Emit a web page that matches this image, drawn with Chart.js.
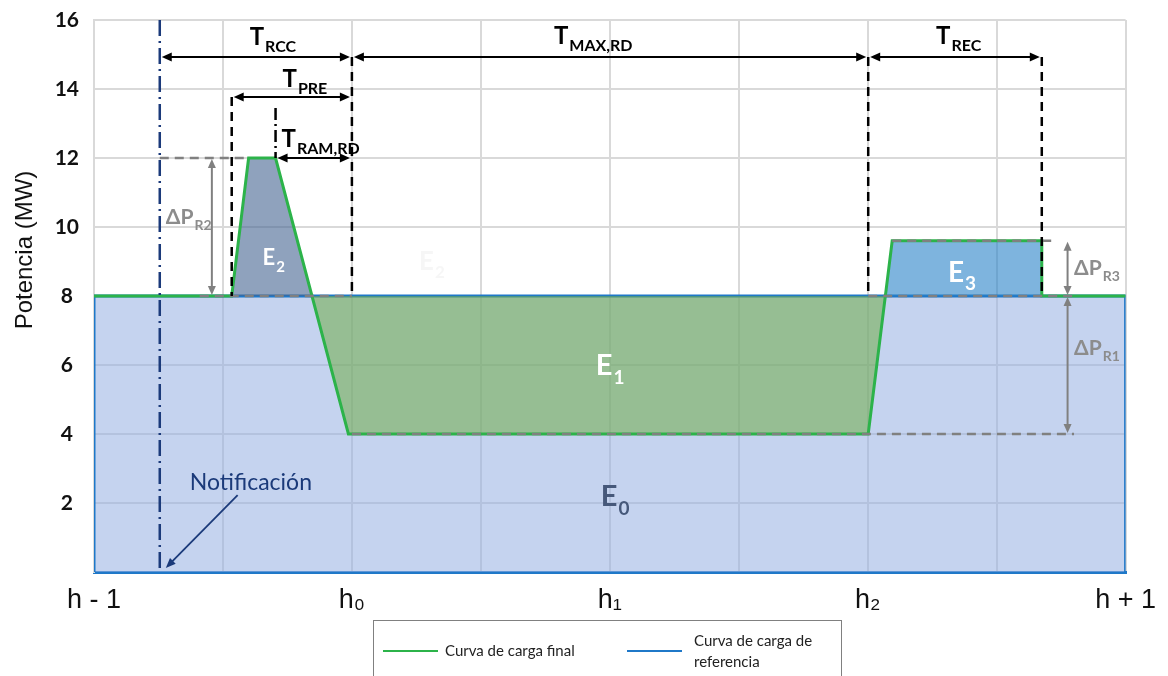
<!DOCTYPE html>
<html>
<head>
<meta charset="utf-8">
<script src="https://cdn.jsdelivr.net/npm/chart.js@4.4.1/dist/chart.umd.min.js"></script>
<style>
  html, body { margin: 0; padding: 0; background: #fff; overflow: hidden; }
  #wrap { position: relative; width: 1168px; height: 676px; }
  #legend {
    position: absolute; left: 373px; top: 620px; width: 467px; height: 70px;
    border: 1.5px solid #808080; font-family: Lato, sans-serif; font-size: 15px; color: #222;
  }
  #legend .ln { position: absolute; height: 2px; width: 55px; }
  #legend .tx { position: absolute; line-height: 21px; }
</style>
</head>
<body>
<div id="wrap">
  <canvas id="chart" width="1168" height="676"></canvas>
  <div id="legend">
    <div class="ln" style="left:9px;top:29px;background:#2cb34a"></div>
    <div class="tx" style="left:71px;top:19px">Curva de carga final</div>
    <div class="ln" style="left:253px;top:29px;background:#1f78c8"></div>
    <div class="tx" style="left:320px;top:9px">Curva de carga de<br>referencia</div>
  </div>
</div>
<script>
// x in hours from h-1 (0) to h+1 (8), y in MW
const xTicks = [0, 2, 4, 6, 8];
const xTickLabels = ['h - 1', 'h\u2080', 'h\u2081', 'h\u2082', 'h + 1'];

const refX = [0, 0, 8, 8];
const refY = [0, 8, 8, 0];

const finalX = [0, 1.068, 1.199, 1.408, 1.973, 6.004, 6.19, 7.35, 7.35, 8];
const finalY = [8, 8, 12, 12, 4, 4, 9.6, 9.6, 8, 8];

const e1X = [1.69, 1.973, 6.004, 6.133];
const e1Y = [8, 4, 4, 8];
const e2X = [1.068, 1.199, 1.408, 1.69];
const e2Y = [8, 12, 12, 8];
const e3X = [6.133, 6.19, 7.35, 7.35];
const e3Y = [8, 9.6, 9.6, 8];

const notifX = 0.51;

const GREEN = '#2cb34a';
const BLUE = '#1f78c8';
const GRAY = '#808080';
const NAVY = '#1b3a7a';

const pts = (xs, ys) => xs.map((x, i) => ({ x: x, y: ys[i] }));

// annotation marks, in data units
const blackDashed = [
  { x: 1.068, y0: 8, y1: 13.77 },
  { x: 2.0, y0: 8, y1: 14.93 },
  { x: 6.004, y0: 8, y1: 14.93 },
  { x: 7.35, y0: 8, y1: 14.93 }
];
const grayDashed = [
  { y: 12, x0: notifX, x1: 1.2 },
  { y: 8, x0: 0.82, x1: 2.0 },
  { y: 8, x0: 6.004, x1: 7.6 },
  { y: 9.6, x0: 6.19, x1: 7.45 },
  { y: 4, x0: 2.0, x1: 7.6 }
];
const blackArrows = [
  { y: 14.93, x0: notifX, x1: 2.0 },
  { y: 14.93, x0: 2.0, x1: 6.004 },
  { y: 14.93, x0: 6.004, x1: 7.35 },
  { y: 13.77, x0: 1.068, x1: 2.0 },
  { y: 12, x0: 1.408, x1: 2.0 }
];
const grayArrows = [
  { x: 0.914, y0: 8, y1: 12 },
  { x: 7.55, y0: 8, y1: 9.6 },
  { x: 7.55, y0: 4, y1: 8 }
];
const labels = [
  { x: 1.207, y: 15.28, main: 'T', sub: 'RCC', size: 24, color: '#000' },
  { x: 1.462, y: 14.06, main: 'T', sub: 'PRE', size: 24, color: '#000' },
  { x: 1.454, y: 12.32, main: 'T', sub: 'RAM,RD', size: 24, color: '#000' },
  { x: 3.567, y: 15.3, main: 'T', sub: 'MAX,RD', size: 24, color: '#000' },
  { x: 6.53, y: 15.3, main: 'T', sub: 'REC', size: 24, color: '#000' },
  { x: 0.557, y: 10.09, main: '\u0394P', sub: 'R2', size: 21, color: '#8c8c8c' },
  { x: 7.6, y: 8.61, main: '\u0394P', sub: 'R3', size: 21, color: '#8c8c8c' },
  { x: 7.6, y: 6.29, main: '\u0394P', sub: 'R1', size: 21, color: '#8c8c8c' },
  { x: 1.307, y: 8.9, main: 'E', sub: '2', size: 22, color: '#fff' },
  { x: 3.892, y: 5.71, main: 'E', sub: '1', size: 29, color: '#fff' },
  { x: 6.622, y: 8.41, main: 'E', sub: '3', size: 28, color: '#fff' },
  { x: 3.93, y: 1.91, main: 'E', sub: '0', size: 29, color: '#46587a' },
  { x: 2.52, y: 8.75, main: 'E', sub: '2', size: 26, color: 'rgba(244,244,244,0.8)' }
];

function head(ctx, x, y, ang, len, w) {
  ctx.save();
  ctx.translate(x, y);
  ctx.rotate(ang);
  ctx.beginPath();
  ctx.moveTo(0, 0);
  ctx.lineTo(-len, -w);
  ctx.lineTo(-len, w);
  ctx.closePath();
  ctx.fill();
  ctx.restore();
}

const annot = {
  id: 'annot',
  afterDatasetsDraw(chart) {
    const ctx = chart.ctx;
    const xs = chart.scales.x, ys = chart.scales.y;
    const px = v => xs.getPixelForValue(v);
    const py = v => ys.getPixelForValue(v);
    ctx.save();
    ctx.lineCap = 'butt';

    // gray dashed guides
    ctx.strokeStyle = GRAY; ctx.lineWidth = 2.5; ctx.setLineDash([9, 6]);
    grayDashed.forEach(d => {
      ctx.beginPath(); ctx.moveTo(px(d.x0), py(d.y)); ctx.lineTo(px(d.x1), py(d.y)); ctx.stroke();
    });

    // black dashed verticals
    ctx.strokeStyle = '#000'; ctx.lineWidth = 2.5; ctx.setLineDash([9, 6]);
    blackDashed.forEach(d => {
      ctx.beginPath(); ctx.moveTo(px(d.x), py(d.y1)); ctx.lineTo(px(d.x), py(d.y0)); ctx.stroke();
    });
    // dash-dot at end of ramp
    ctx.setLineDash([12, 4, 2, 4]);
    ctx.beginPath(); ctx.moveTo(px(1.408), py(13.45)); ctx.lineTo(px(1.408), py(12)); ctx.stroke();

    // notification line
    ctx.strokeStyle = NAVY; ctx.lineWidth = 2.5; ctx.setLineDash([16, 5, 2, 5]);
    ctx.beginPath(); ctx.moveTo(px(notifX), py(16)); ctx.lineTo(px(notifX), py(0.1)); ctx.stroke();
    ctx.setLineDash([]);

    // black double arrows
    ctx.strokeStyle = '#000'; ctx.fillStyle = '#000'; ctx.lineWidth = 2;
    blackArrows.forEach(a => {
      const x0 = px(a.x0) + 2, x1 = px(a.x1) - 2, y = py(a.y);
      ctx.beginPath(); ctx.moveTo(x0 + 6, y); ctx.lineTo(x1 - 6, y); ctx.stroke();
      head(ctx, x0, y, Math.PI, 10, 4.5);
      head(ctx, x1, y, 0, 10, 4.5);
    });

    // gray double arrows
    ctx.strokeStyle = GRAY; ctx.fillStyle = GRAY; ctx.lineWidth = 2;
    grayArrows.forEach(a => {
      const x = px(a.x), y0 = py(a.y0) - 1, y1 = py(a.y1) + 1;
      ctx.beginPath(); ctx.moveTo(x, y0 - 6); ctx.lineTo(x, y1 + 6); ctx.stroke();
      head(ctx, x, y0, Math.PI / 2, 9, 4);
      head(ctx, x, y1, -Math.PI / 2, 9, 4);
    });

    // notification arrow
    ctx.strokeStyle = NAVY; ctx.fillStyle = NAVY; ctx.lineWidth = 1.8;
    const ax0 = px(1.114), ay0 = py(2.23), ax1 = px(0.557), ay1 = py(0.116);
    const ang = Math.atan2(ay1 - ay0, ax1 - ax0);
    ctx.beginPath(); ctx.moveTo(ax0, ay0); ctx.lineTo(ax1 - 6 * Math.cos(ang), ay1 - 6 * Math.sin(ang)); ctx.stroke();
    head(ctx, ax1, ay1, ang, 10, 4);
    ctx.font = '23px Lato';
    ctx.textBaseline = 'alphabetic'; ctx.textAlign = 'left';
    ctx.fillText('Notificaci\u00f3n', px(0.743), py(2.38));

    // text labels with subscripts
    labels.forEach(l => {
      const x = px(l.x), y = py(l.y);
      ctx.fillStyle = l.color;
      ctx.font = 'bold ' + l.size + 'px Lato';
      ctx.fillText(l.main, x, y);
      const w = ctx.measureText(l.main).width;
      ctx.font = 'bold ' + Math.round(l.size * 0.67) + 'px Lato';
      ctx.fillText(l.sub, x + w + 1, y + l.size * 0.3);
    });

    // y axis title
    ctx.fillStyle = '#111';
    ctx.font = '24px "Liberation Sans"';
    ctx.textAlign = 'center'; ctx.textBaseline = 'middle';
    ctx.translate(25, 250);
    ctx.rotate(-Math.PI / 2);
    ctx.fillText('Potencia (MW)', 0, 0);
    ctx.restore();
  }
};

new Chart(document.getElementById('chart'), {
  type: 'line',
  data: {
    datasets: [
      { label: 'Curva de carga final', data: pts(finalX, finalY), borderColor: GREEN, borderWidth: 3, fill: false, order: 0 },
      { label: 'E2', data: pts(e2X, e2Y), borderWidth: 0, backgroundColor: 'rgba(68,100,145,0.6)', fill: { value: 8 }, order: 1 },
      { label: 'E1', data: pts(e1X, e1Y), borderWidth: 0, backgroundColor: 'rgba(112,173,71,0.55)', fill: { value: 8 }, order: 1 },
      { label: 'E3', data: pts(e3X, e3Y), borderWidth: 0, backgroundColor: 'rgba(40,130,200,0.6)', fill: { value: 8 }, order: 1 },
      { label: 'Curva de carga de referencia', data: pts(refX, refY), borderColor: BLUE, borderWidth: 3, backgroundColor: 'rgba(150,175,225,0.55)', fill: 'origin', order: 3 }
    ]
  },
  options: {
    responsive: false,
    animation: false,
    layout: { padding: { left: 0, right: 40, top: 20, bottom: 0 } },
    elements: { point: { radius: 0 }, line: { tension: 0 } },
    plugins: { legend: { display: false }, tooltip: { enabled: false } },
    scales: {
      x: {
        type: 'linear', min: 0, max: 8,
        afterFit: s => { s.height = 104; },
        ticks: {
          stepSize: 1, autoSkip: false, maxRotation: 0, padding: 12,
          color: '#111', font: { family: 'Liberation Sans', size: 27 },
          callback: v => { const i = xTicks.indexOf(v); return i >= 0 ? xTickLabels[i] : ''; }
        },
        grid: { color: '#d9d9d9', lineWidth: 2, drawTicks: false },
        border: { color: BLUE, width: 3 }
      },
      y: {
        min: 0, max: 16,
        afterFit: s => { s.width = 94; s.paddingTop = 0; s.paddingBottom = 0; },
        ticks: {
          stepSize: 2, padding: 15, crossAlign: 'center', color: '#111',
          font: { family: 'Lato', size: 21, weight: 'bold' },
          callback: v => v === 0 ? '' : v
        },
        grid: { color: '#d9d9d9', lineWidth: 2, drawTicks: false },
        border: { color: '#d9d9d9', width: 2 }
      }
    }
  },
  plugins: [annot]
});
</script>
</body>
</html>
